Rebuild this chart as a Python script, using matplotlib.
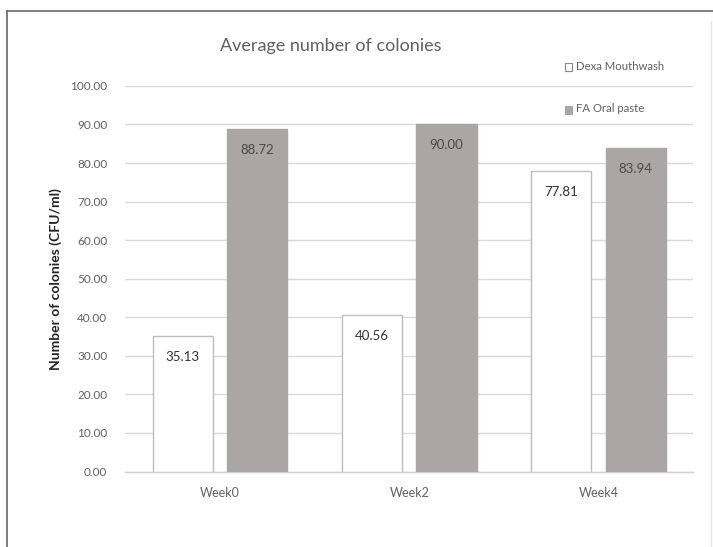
import matplotlib
matplotlib.use("Agg")
import matplotlib.pyplot as plt
import numpy as np
from matplotlib.lines import Line2D
from matplotlib.patches import Rectangle

plt.rcParams['font.family'] = ['Lato', 'DejaVu Sans']

weeks = ["Week0", "Week2", "Week4"]
dexa = [35.13, 40.56, 77.81]
fa_paste = [88.72, 90.00, 83.94]
series_names = ["Dexa Mouthwash", "FA Oral paste"]
yticks = [0, 10, 20, 30, 40, 50, 60, 70, 80, 90, 100]

fig = plt.figure(figsize=(7.13, 5.47), dpi=100)
ax = fig.add_axes([0.176, 0.138, 0.796, 0.705])

x = np.arange(len(weeks))
w = 0.318
off = 0.197
b1 = ax.bar(x - off, dexa, w, color="white", edgecolor="#bdbdbd", linewidth=1.0, zorder=3)
b2 = ax.bar(x + off, fa_paste, w, color="#aba6a6", edgecolor="#aba6a6", linewidth=1.0, zorder=3)

for rect, v in zip(b1, dexa):
    ax.annotate(f"{v:.2f}", (rect.get_x() + rect.get_width() / 2, v), xytext=(0, -15),
                textcoords="offset points", ha="center", va="center", fontsize=9.5, color="#333333")
for rect, v in zip(b2, fa_paste):
    ax.annotate(f"{v:.2f}", (rect.get_x() + rect.get_width() / 2, v), xytext=(0, -15),
                textcoords="offset points", ha="center", va="center", fontsize=9.5, color="#4a4a4a")

ax.set_xlim(-0.5, len(weeks) - 0.5)
ax.set_ylim(0, 100)
ax.set_yticks(yticks)
ax.set_yticklabels([f"{t:.2f}" for t in yticks], fontsize=8.5, color="#606060")
ax.set_xticks(x)
ax.set_xticklabels(weeks, fontsize=9, color="#606060")
ax.tick_params(axis="both", length=0, pad=13)
ax.tick_params(axis="x", pad=11)
ax.yaxis.grid(True, color="#d9d9d9", linewidth=1.0, zorder=0)
for s in ["top", "right", "left"]:
    ax.spines[s].set_visible(False)
ax.spines["bottom"].set_color("#d0d0d0")
ax.spines["bottom"].set_linewidth(1.0)
ax.set_axisbelow(True)

ax.set_ylabel("Number of colonies (CFU/ml)", fontsize=10, color="#222222", fontweight="bold", labelpad=6)

fig.text(0.464, 1 - 46 / 547, "Average number of colonies", fontsize=13, color="#606060",
         ha="center", va="center")

# legend entries stacked at the upper right
leg_styles = [("white", "#888888"), ("#aba6a6", "#aba6a6")]
leg_y = [1 - 66 / 547, 1 - 109 / 547]
for name, yy, (fc, ec) in zip(series_names, leg_y, leg_styles):
    fig.patches.append(Rectangle((565 / 713, yy - 0.0085), 0.0105, 0.0135, transform=fig.transFigure,
                                 facecolor=fc, edgecolor=ec, linewidth=0.8))
    fig.text(576 / 713, yy, name, fontsize=8.2, color="#606060", ha="left", va="center")

# frame lines around the figure
fig.add_artist(Line2D([7 / 713, 7 / 713], [0, 1 - 11 / 547], transform=fig.transFigure, color="#666666", lw=1.2))
fig.add_artist(Line2D([7 / 713, 1], [1 - 11 / 547, 1 - 11 / 547], transform=fig.transFigure, color="#666666", lw=1.2))
fig.add_artist(Line2D([711 / 713, 711 / 713], [0, 1 - 21 / 547], transform=fig.transFigure, color="#e6e6e6", lw=1.0))

fig.savefig("out.png", dpi=100)
